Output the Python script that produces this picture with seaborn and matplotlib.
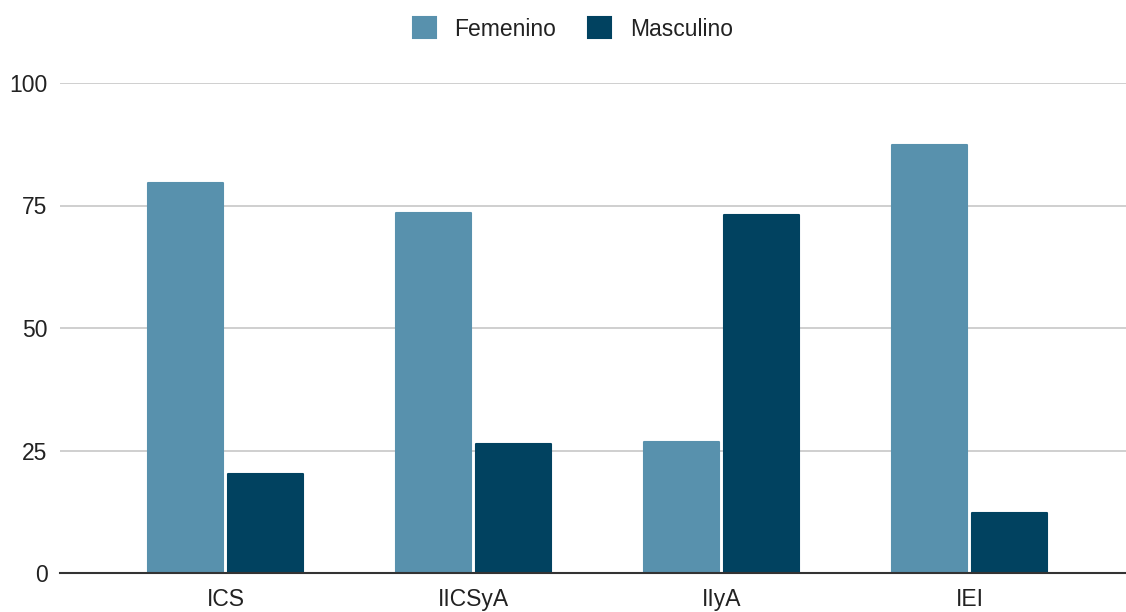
import matplotlib
matplotlib.use("Agg")
import matplotlib.pyplot as plt
import seaborn as sns
import pandas as pd

categories = ["ICS", "IICSyA", "IIyA", "IEI"]
femenino = [79.6, 73.5, 26.7, 87.3]
masculino = [20.2, 26.3, 73.1, 12.2]
series_names = ["Femenino", "Masculino"]
colors = ["#5891ad", "#014260"]
yticks = [0, 25, 50, 75, 100]

df = pd.DataFrame({
    "Instituto": categories * 2,
    "Porcentaje": femenino + masculino,
    "Sexo": [series_names[0]] * len(categories) + [series_names[1]] * len(categories),
})

sns.set_theme(style="white")
plt.rcParams["font.family"] = ["Liberation Sans", "DejaVu Sans"]

fig = plt.figure(figsize=(11.26, 6.12), dpi=100)
ax = fig.add_axes([60 / 1126, 39 / 612, 1066 / 1126, 490 / 612])

sns.barplot(
    data=df, x="Instituto", y="Porcentaje", hue="Sexo",
    palette=colors, width=0.645, gap=0.06, saturation=1,
    errorbar=None, ax=ax, zorder=3,
)

# slightly rounded corners on each bar
for patch in ax.patches:
    patch.set_edgecolor(patch.get_facecolor())
    patch.set_linewidth(1.5)
    patch.set_joinstyle("round")

ax.set_ylim(0, 100)
ax.set_xlim(-0.669, 3.63)
ax.set_yticks(yticks)
ax.set_yticklabels([str(t) for t in yticks])
ax.yaxis.grid(True, color="#cccccc", linewidth=1.3, zorder=0)
ax.set_axisbelow(True)
ax.tick_params(axis="y", length=0, pad=9, labelsize=16.5, labelcolor="#222222")
ax.tick_params(axis="x", length=0, pad=11, labelsize=16.5, labelcolor="#222222")
ax.set_xlabel("")
ax.set_ylabel("")
for side in ["top", "right", "left"]:
    ax.spines[side].set_visible(False)
ax.spines["bottom"].set_color("#333333")
ax.spines["bottom"].set_linewidth(1.5)
ax.spines["bottom"].set_zorder(5)

ax.legend(
    loc="center", bbox_to_anchor=(573 / 1126, 1 - 29 / 612),
    bbox_transform=fig.transFigure, ncol=2, frameon=False,
    fontsize=16.5, handlelength=1.0, handleheight=1.0,
    columnspacing=1.4, handletextpad=0.8,
)
for t in ax.get_legend().get_texts():
    t.set_color("#222222")

fig.savefig("out.png", dpi=100)
